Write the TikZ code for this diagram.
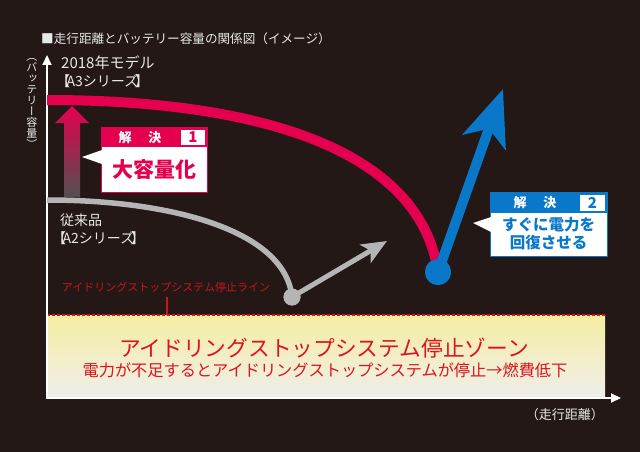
\documentclass[tikz,border=0pt]{standalone}
\usepackage{fontspec}
\setmainfont{Noto Sans CJK JP}
\newfontfamily\jpv[RawFeature=+vert]{Noto Sans CJK JP}
\usetikzlibrary{arrows.meta}
\definecolor{bg}{HTML}{231815}
\definecolor{crim}{HTML}{E5004F}
\definecolor{bblue}{HTML}{0A78C8}
\definecolor{gline}{HTML}{B5B5B6}
\definecolor{zred}{HTML}{DA1420}
\definecolor{lred}{HTML}{C8161D}
\definecolor{ztop}{HTML}{F6EDA2}
\definecolor{zbot}{HTML}{EEEEEA}
\definecolor{txt}{HTML}{E8E8E8}
\tikzset{
  lbl/.style={inner sep=0, text=txt},
  axisline/.style={draw=white, line width=2, -{Triangle[length=10pt,width=9pt]}},
  headtxt/.style={inner sep=0, text=white, font=\bfseries\fontsize{13}{15}\selectfont},
}
\begin{document}
\begin{tikzpicture}[x=1pt,y=-1pt]
\fill[bg] (0,0) rectangle (640,452);
\useasboundingbox (0,0) rectangle (640,452);

% title
\node[lbl, anchor=west, font=\fontsize{12.6}{15}\selectfont] (title) at (41,39) {■走行距離とバッテリー容量の関係図（イメージ）};

% zone
\shade[top color=ztop, bottom color=zbot] (47,315) rectangle (605,397);
\coordinate (dl) at (47,315);
\coordinate (dr) at (605,315);
\draw[zred, line width=1.3, dash pattern=on 3pt off 2pt] (dl) -- (dr);
\node[inner sep=0, text=zred, font=\fontsize{21.7}{26}\selectfont] (zone1) at (324,348) {アイドリングストップシステム停止ゾーン};
\node[inner sep=0, text=zred, font=\fontsize{16.2}{19}\selectfont] (zone2) at (325,370) {電力が不足するとアイドリングストップシステムが停止→燃費低下};

% stop line label
\node[inner sep=0, text=lred, font=\fontsize{11}{13}\selectfont] (stoplbl) at (166,287) {アイドリングストップシステム停止ライン};
\coordinate (tk1) at (167,297);
\coordinate (tk2) at (167,315);
\draw[lred, line width=1.3] (tk1) -- (tk2);

% axes
\coordinate (o1) at (47,399);
\coordinate (ytip) at (47,55);
\coordinate (o2) at (46,398);
\coordinate (xtip) at (621,398);
\draw[axisline] (o1) -- (ytip);
\draw[axisline] (o2) -- (xtip);
\node[inner sep=0, text=txt, align=center, font=\jpv\fontsize{11}{11}\selectfont] (ylab) at (32,103) {（\\バ\\ッ\\テ\\リ\\ー\\容\\量\\）};
\node[lbl, anchor=east, font=\fontsize{13}{15}\selectfont] (xlab) at (604,415) {（走行距離）};

% series labels
\node[lbl, anchor=west, font=\fontsize{15}{17}\selectfont] (a3a) at (61,63) {2018年モデル};
\node[lbl, anchor=west, font=\fontsize{14}{16}\selectfont] (a3b) at (56,81) {【\kern-0.25em A3シリーズ\kern-0.25em】};
\node[lbl, anchor=west, font=\fontsize{14}{16}\selectfont] (a2a) at (60,220) {従来品};
\node[lbl, anchor=west, font=\fontsize{14}{16}\selectfont] (a2b) at (52,238) {【\kern-0.25em A2シリーズ\kern-0.25em】};

% gradient arrow
\shade[top color=crim, middle color=crim!80!gray, bottom color={rgb,255:red,80;green,80;blue,80}]
  (64,197) -- (64,123) -- (55,123) -- (72,106) -- (89,123) -- (80,123) -- (80,197) -- cycle;

% dots
\node[circle, fill=gline, minimum size=17, inner sep=0] (gdot) at (292,297) {};
\node[circle, fill=bblue, minimum size=26, inner sep=0] (bdot) at (438,272) {};
\coordinate (rs) at (47,100);
\coordinate (gs) at (47,200);
\coordinate (gtip) at (387,241);
\coordinate (btip) at (503,89);

% gray curve & arrow
\draw[gline, line width=5.5] (gs) .. controls (170,200) and (285,230) .. (gdot.center);
\draw[gline, line width=5, -{Stealth[length=25pt,width=21pt,inset=6pt]}] (gdot.center) -- (gtip);
\node[circle, fill=gline, minimum size=17, inner sep=0] at (gdot) {};

% red curve
\draw[crim, line width=10] (rs) .. controls (260,100) and (420,150) .. (bdot.center);
% blue arrow
\draw[bblue, line width=10, -{Stealth[length=56pt,width=45pt,inset=14pt]}] (bdot.center) -- (btip);
\node[circle, fill=bblue, minimum size=26, inner sep=0] at (bdot) {};

% box 1
\fill[white] (101,127) rectangle (207,192);
\draw[crim, line width=1] (101,127) rectangle (207,192);
\fill[crim] (101,127) rectangle (207,147);
\fill[white] (181,129.5) rectangle (205,145);
\fill[white] (102,150) -- (82,157) -- (102,164) -- cycle;
\node[headtxt] (h1) at (140,137.5) {解\hspace{1.3em}決};
\node[inner sep=0, text=crim, font=\bfseries\fontsize{15}{17}\selectfont] (n1) at (193,137.5) {1};
\node[inner sep=0, text=crim, font=\bfseries\fontsize{21}{24}\selectfont] (b1) at (154,170) {大容量化};

% box 2
\fill[white] (490,192) rectangle (607,256);
\draw[bblue, line width=1] (490,192) rectangle (607,256);
\fill[bblue] (490,192) rectangle (607,213);
\fill[white] (580,194.5) rectangle (605,211);
\fill[white] (491,217) -- (473,223) -- (491,232) -- cycle;
\node[headtxt] (h2) at (535,203) {解\hspace{1.3em}決};
\node[inner sep=0, text=bblue, font=\bfseries\fontsize{15}{17}\selectfont] (n2) at (592.5,203) {2};
\node[inner sep=0, text=bblue, align=center, font=\bfseries\fontsize{15.5}{18}\selectfont] (b2) at (548.5,234) {すぐに電力を\\回復させる};
\end{tikzpicture}
\end{document}
